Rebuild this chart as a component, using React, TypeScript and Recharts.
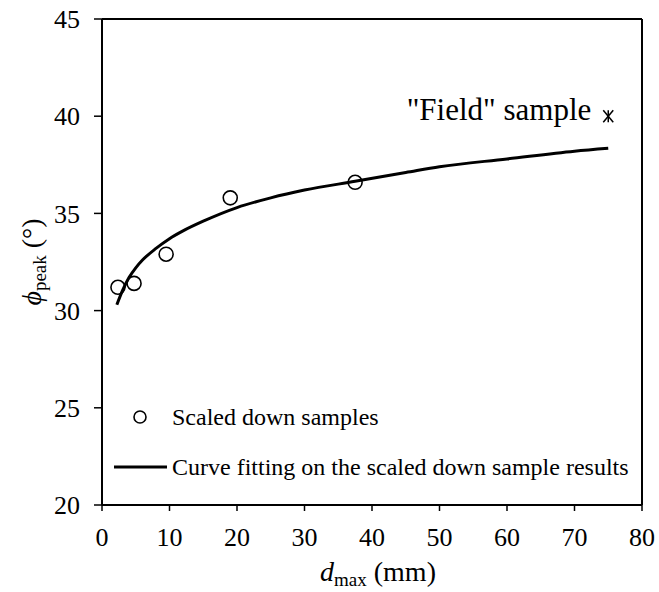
import React from 'react';
import {
  ComposedChart,
  Line,
  Scatter,
  XAxis,
  YAxis,
  ReferenceLine,
} from 'recharts';

// values
const scaledSamples = [
  { x: 2.36, y: 31.2 },
  { x: 4.75, y: 31.4 },
  { x: 9.5, y: 32.9 },
  { x: 19, y: 35.8 },
  { x: 37.5, y: 36.6 },
];

const fieldSample = [{ x: 75, y: 40.0, name: '"Field" sample' }];

const fittedCurve = [
  { x: 2.2, y: 30.3 },
  { x: 3, y: 31.0 },
  { x: 4, y: 31.7 },
  { x: 5, y: 32.2 },
  { x: 6, y: 32.6 },
  { x: 8, y: 33.2 },
  { x: 10, y: 33.7 },
  { x: 12, y: 34.1 },
  { x: 15, y: 34.6 },
  { x: 20, y: 35.3 },
  { x: 25, y: 35.8 },
  { x: 30, y: 36.2 },
  { x: 37.5, y: 36.65 },
  { x: 45, y: 37.1 },
  { x: 50, y: 37.4 },
  { x: 60, y: 37.8 },
  { x: 70, y: 38.2 },
  { x: 75, y: 38.35 },
];

const xTicks = [0, 10, 20, 30, 40, 50, 60, 70, 80];
const yTicks = [20, 25, 30, 35, 40, 45];

const legendLabels = ['Scaled down samples', 'Curve fitting on the scaled down sample results'];

const FONT = 'Liberation Serif, Times New Roman, serif';

const OpenCircle = (props: any) => {
  const { cx, cy } = props;
  return <circle cx={cx} cy={cy} r={7} fill="none" stroke="#000" strokeWidth={1.6} />;
};

const FieldMarker = (props: any) => {
  const { cx, cy, payload } = props;
  return (
    <g>
      <line x1={cx - 5} y1={cy - 6} x2={cx + 5} y2={cy + 6} stroke="#000" strokeWidth={1.5} />
      <line x1={cx - 5} y1={cy + 6} x2={cx + 5} y2={cy - 6} stroke="#000" strokeWidth={1.5} />
      <line x1={cx} y1={cy - 6} x2={cx} y2={cy + 6} stroke="#000" strokeWidth={1.5} />
      <text x={cx - 17} y={cy + 4} textAnchor="end" style={{ fontFamily: FONT }} fontSize={31} fill="#000">
        {payload.name}
      </text>
    </g>
  );
};

const XTitle = (props: any) => {
  const { viewBox } = props;
  const cx = viewBox.x + viewBox.width / 2 + 6;
  return (
    <text x={cx} y={581} textAnchor="middle" style={{ fontFamily: FONT }} fontSize={28} fill="#000">
      <tspan fontStyle="italic">d</tspan>
      <tspan fontSize={19} dy={5}>max</tspan>
      <tspan dy={-5}> (mm)</tspan>
    </text>
  );
};

const YTitle = (props: any) => {
  const { viewBox } = props;
  const cy = viewBox.y + viewBox.height / 2;
  return (
    <text
      x={0}
      y={0}
      transform={`translate(41, ${cy}) rotate(-90)`}
      textAnchor="middle"
      style={{ fontFamily: FONT }}
      fontSize={28}
      fill="#000"
    >
      <tspan fontStyle="italic">ϕ</tspan>
      <tspan fontSize={19} dy={5}>peak</tspan>
      <tspan dy={-5}> (°)</tspan>
    </text>
  );
};

const tickStyle = { fill: '#000', fontSize: 26, fontFamily: FONT };

export default function App() {
  return (
    <div style={{ position: 'absolute', left: 0, top: 0, width: 659, height: 592, background: '#fff', fontFamily: FONT }}>
      <ComposedChart width={659} height={592} margin={{ top: 19, right: 17, bottom: 27, left: 42 }}>
        <XAxis
          type="number"
          dataKey="x"
          domain={[0, 80]}
          ticks={xTicks}
          allowDataOverflow
          tick={tickStyle}
          tickSize={6}
          tickMargin={17}
          axisLine={{ stroke: '#000', strokeWidth: 2 }}
          tickLine={{ stroke: '#000', strokeWidth: 1.5 }}
          height={60}
          label={{ content: XTitle }}
        />
        <YAxis
          type="number"
          dataKey="y"
          domain={[20, 45]}
          ticks={yTicks}
          allowDataOverflow
          tick={tickStyle}
          tickSize={8}
          tickMargin={14}
          axisLine={{ stroke: '#000', strokeWidth: 2 }}
          tickLine={{ stroke: '#000', strokeWidth: 1.5 }}
          width={60}
          label={{ content: YTitle }}
        />
        <ReferenceLine y={45} stroke="#000" strokeWidth={2} />
        <ReferenceLine x={80} stroke="#000" strokeWidth={2} />
        <Line
          data={fittedCurve}
          dataKey="y"
          type="monotone"
          stroke="#000"
          strokeWidth={3}
          dot={false}
          activeDot={false}
          isAnimationActive={false}
        />
        <Scatter data={scaledSamples} dataKey="y" shape={OpenCircle} isAnimationActive={false} />
        <Scatter data={fieldSample} dataKey="y" shape={FieldMarker} isAnimationActive={false} />
      </ComposedChart>
      {/* legend sits inside the plot, lower left */}
      <svg width={540} height={90} style={{ position: 'absolute', left: 105, top: 395, overflow: 'visible' }}>
        <circle cx={35} cy={22} r={6} fill="none" stroke="#000" strokeWidth={1.6} />
        <text x={67} y={30} style={{ fontFamily: FONT }} fontSize={24} fill="#000">
          {legendLabels[0]}
        </text>
        <line x1={9} y1={72} x2={62} y2={72} stroke="#000" strokeWidth={3} />
        <text x={67} y={80} style={{ fontFamily: FONT }} fontSize={24} fill="#000">
          {legendLabels[1]}
        </text>
      </svg>
    </div>
  );
}
